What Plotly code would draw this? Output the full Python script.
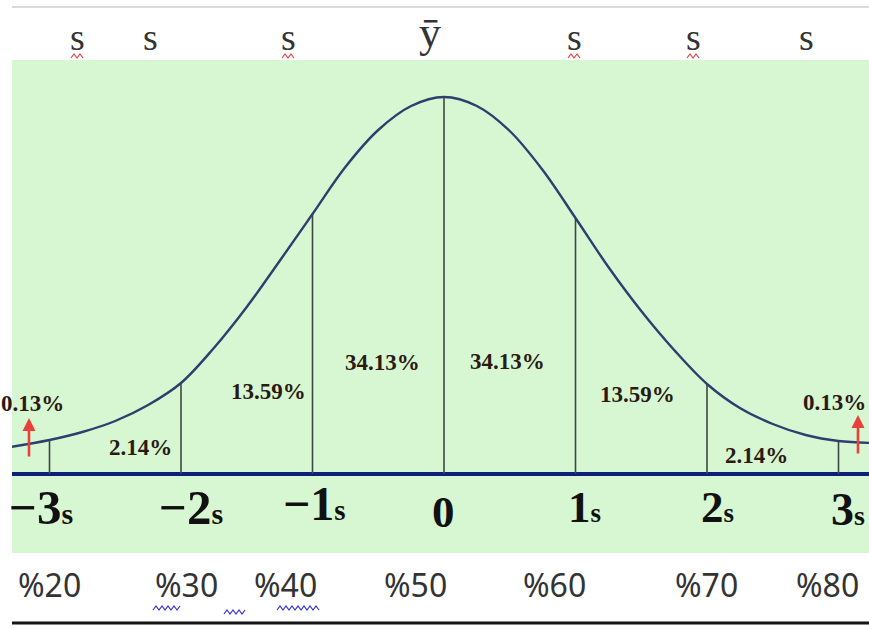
import plotly.graph_objects as go

# ---------------- data ----------------
sigma_ticks = [-3, -2, -1, 0, 1, 2, 3]
curve_sigma = [-3.3, -3.0, -2.75, -2.5, -2.25, -2.0, -1.75, -1.5, -1.25, -1.0, -0.75, -0.5, -0.25, 0.0,
               0.25, 0.5, 0.75, 1.0, 1.25, 1.5, 1.75, 2.0, 2.25, 2.5, 2.75, 3.0, 3.25]
curve_height = [27, 34, 42, 53, 69, 91, 126, 167, 213, 260, 307, 344, 368, 377,
                368, 343, 304, 256, 207, 163, 124, 90, 66, 50, 39, 33, 31]
line_top = [34, 91, 260, 377, 256, 90, 33]
region_labels = ["0.13%", "2.14%", "13.59%", "34.13%", "34.13%", "13.59%", "2.14%", "0.13%"]
sigma_labels = ["−3", "−2", "−1", "0", "1", "2", "3"]
sigma_suffix = ["s", "s", "s", "", "s", "s", "s"]
percentile_labels = ["%20", "%30", "%40", "%50", "%60", "%70", "%80"]
top_labels = ["s", "s", "s", "ȳ", "s", "s", "s"]

# ---------------- layout helpers (pixel -> paper) ----------------
W, H = 869, 628
L, T, R, B = 12, 60, 869, 553          # green plot area in pixels


def px(x):
    return (x - L) / (R - L)


def py(y):
    return (B - y) / (B - T)


def squiggle(x0, x1, y, amp=2.0, step=3.0):
    pts = []
    x = x0
    k = 0
    while x <= x1:
        yy = y + (amp if k % 2 == 0 else -amp)
        pts.append(f"{px(x):.5f},{py(yy):.5f}")
        x += step
        k += 1
    return "M " + " L ".join(pts)


fig = go.Figure()

# vertical sigma lines
vx, vy = [], []
for s, t in zip(sigma_ticks, line_top):
    vx += [s, s, None]
    vy += [0, t, None]
fig.add_trace(go.Scatter(x=vx, y=vy, mode="lines",
                         line=dict(color="#3d4843", width=1.6),
                         hoverinfo="skip", showlegend=False))

# bell curve
fig.add_trace(go.Scatter(x=curve_sigma, y=curve_height, mode="lines",
                         line=dict(color="#2c3f6e", width=2.4, shape="spline", smoothing=1.0),
                         hoverinfo="skip", showlegend=False))

ann = []
serif = "Liberation Serif"
dark = "#2a1a12"

# region percentages
region_pos = [(66, 403, "right"), (140, 447, "center"), (268, 391, "center"), (382, 362, "center"),
              (507, 361, "center"), (637, 394, "center"), (756, 455, "center"), (868, 402, "right")]
for txt, (x, y, anc) in zip(region_labels, region_pos):
    ann.append(dict(x=px(x), y=py(y), xref="paper", yref="paper", text=txt, showarrow=False,
                    xanchor=anc, yanchor="middle",
                    font=dict(family=serif, size=23, color=dark, weight="bold")))

# sigma labels below baseline
sig_pos = [(41, 507, 49), (191, 507, 49), (314, 503, 48), (443, 512, 45),
           (584, 507, 45), (717, 507, 45), (848, 509, 46)]
for lab, suf, (x, y, fs) in zip(sigma_labels, sigma_suffix, sig_pos):
    text = lab
    if suf:
        text += f"<span style='font-size:{int(fs*0.62)}px'>{suf}</span>"
    ann.append(dict(x=px(x), y=py(y), xref="paper", yref="paper", text=text, showarrow=False,
                    xanchor="center", yanchor="middle",
                    font=dict(family=serif, size=fs, color="#111111", weight="bold")))

# percentile labels
pct_x = [49, 186, 285, 415, 554, 706, 827]
for lab, x in zip(percentile_labels, pct_x):
    ann.append(dict(x=px(x), y=py(584), xref="paper", yref="paper", text=lab, showarrow=False,
                    xanchor="center", yanchor="middle",
                    font=dict(family="Noto Sans", size=32, color="#333333")))

# top labels
top_x = [77, 150, 288, 430, 574, 693, 806]
for lab, x in zip(top_labels, top_x):
    big = lab != "s"
    ann.append(dict(x=px(x), y=py(33 if big else 37), xref="paper", yref="paper", text=lab,
                    showarrow=False, xanchor="center", yanchor="middle",
                    font=dict(family=serif, size=44 if big else 38, color="#333333")))

# red arrows
for x, yh, yt in [(29, 418, 458), (858, 415, 455)]:
    ann.append(dict(x=px(x), y=py(yh), xref="paper", yref="paper", text="", showarrow=True,
                    ax=0, ay=yt - yh, axref="pixel", ayref="pixel",
                    arrowhead=2, arrowsize=1, arrowwidth=2.6, arrowcolor="#e8403a"))

shapes = []
# top light gray rule and bottom black rule
shapes.append(dict(type="line", xref="paper", yref="paper", x0=0, x1=1, y0=py(7), y1=py(7),
                   line=dict(color="#d9d9d9", width=2)))
shapes.append(dict(type="line", xref="paper", yref="paper", x0=0, x1=1, y0=py(623), y1=py(623),
                   line=dict(color="#151515", width=3)))
# spell-check squiggles
for xc in [77, 288, 574, 693]:
    shapes.append(dict(type="path", xref="paper", yref="paper", path=squiggle(xc - 6, xc + 6, 56),
                       line=dict(color="#e04848", width=1.2)))
for x0, x1, y in [(153, 180, 608), (224, 247, 612), (277, 321, 608)]:
    shapes.append(dict(type="path", xref="paper", yref="paper", path=squiggle(x0, x1, y),
                       line=dict(color="#3434d0", width=1.2)))

fig.update_layout(
    width=W, height=H,
    margin=dict(l=L, r=W - R, t=T, b=H - B),
    paper_bgcolor="white", plot_bgcolor="#d7f7d2",
    xaxis=dict(range=[(L - 444) / 131.5, (R - 444) / 131.5], visible=False, fixedrange=True),
    yaxis=dict(range=[474 - B, 474 - T], showgrid=False, showticklabels=False, ticks="",
               zeroline=True, zerolinecolor="#0d1f7a", zerolinewidth=4, fixedrange=True),
    annotations=ann, shapes=shapes, showlegend=False,
)

fig.write_html("out.html", config={"displayModeBar": False},
               post_script="document.body.style.margin='0px';document.body.style.overflow='hidden';")
